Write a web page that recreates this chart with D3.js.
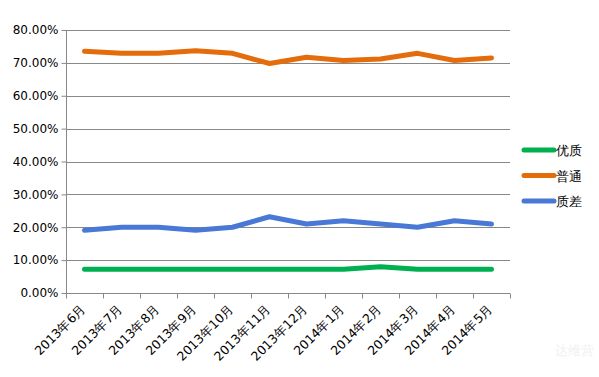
<!DOCTYPE html>
<html>
<head>
<meta charset="utf-8">
<script src="https://cdn.jsdelivr.net/npm/d3@7"></script>
<style>
  body { margin: 0; background: #fff; }
  text { font-family: "DejaVu Sans", sans-serif; }
</style>
</head>
<body>
<script>
var months = ["2013年6月", "2013年7月", "2013年8月", "2013年9月", "2013年10月", "2013年11月",
              "2013年12月", "2014年1月", "2014年2月", "2014年3月", "2014年4月", "2014年5月"];
var youzhi = [0.072, 0.072, 0.072, 0.072, 0.072, 0.072, 0.072, 0.072, 0.080, 0.072, 0.072, 0.072];
var putong = [0.735, 0.729, 0.729, 0.737, 0.729, 0.698, 0.717, 0.707, 0.712, 0.729, 0.707, 0.715];
var zhicha = [0.191, 0.200, 0.200, 0.191, 0.200, 0.232, 0.210, 0.220, 0.210, 0.200, 0.220, 0.210];
var seriesNames = ["优质", "普通", "质差"];
var seriesColors = ["#00b050", "#e46c0a", "#4a78d6"];
var yTicks = [0, 0.1, 0.2, 0.3, 0.4, 0.5, 0.6, 0.7, 0.8];

var series = [youzhi, putong, zhicha];

var width = 599, height = 377;
var margin = {left: 66, right: 89, top: 30, bottom: 84};

var svg = d3.select("body").append("svg").attr("width", width).attr("height", height);

var x = d3.scaleBand()
    .domain(months)
    .range([margin.left, width - margin.right]);

var y = d3.scaleLinear()
    .domain([0, 0.8])
    .range([height - margin.bottom, margin.top]);

// gridlines
svg.append("g")
    .selectAll("line")
    .data(yTicks.slice(1))
    .enter()
    .append("line")
        .attr("x1", margin.left)
        .attr("x2", width - margin.right)
        .attr("y1", function (d) { return Math.round(y(d)) + 0.5; })
        .attr("y2", function (d) { return Math.round(y(d)) + 0.5; })
        .style("stroke", "#888")
        .style("stroke-width", 1);

var yAxis = d3.axisLeft(y).tickValues(yTicks).tickFormat(d3.format(".2%")).tickSize(5);
var gy = svg.append("g")
    .attr("transform", "translate(" + (margin.left + 0.5) + ",0)")
    .call(yAxis);
gy.selectAll("text").style("font-size", "12px").style("fill", "#000").attr("x", -8);
gy.selectAll("line,path").style("stroke", "#888");
gy.select(".domain").attr("d", "M0," + y(0) + "V" + y(0.8));

// x axis with ticks at category boundaries
var gx = svg.append("g")
    .attr("transform", "translate(0," + (Math.round(y(0)) + 0.5) + ")");
gx.append("line")
    .attr("x1", margin.left).attr("x2", width - margin.right)
    .style("stroke", "#888");
gx.selectAll(".bt")
    .data(months.concat(["end"]))
    .enter()
    .append("line")
        .attr("x1", function (d, i) { return Math.round(margin.left + i * x.step()) + 0.5; })
        .attr("x2", function (d, i) { return Math.round(margin.left + i * x.step()) + 0.5; })
        .attr("y1", 0).attr("y2", 5)
        .style("stroke", "#888");
gx.selectAll(".lbl")
    .data(months)
    .enter()
    .append("text")
        .attr("text-anchor", "end")
        .attr("transform", function (d) {
            return "translate(" + (x(d) + x.bandwidth() / 2 + 2) + ",16) rotate(-45)";
        })
        .style("font-size", "12.5px")
        .style("fill", "#000")
        .text(function (d) { return d; });

// lines
var line = d3.line()
    .x(function (d, i) { return x(months[i]) + x.bandwidth() / 2; })
    .y(function (d) { return y(d); });

svg.append("g")
    .selectAll("path")
    .data(series)
    .enter()
    .append("path")
        .attr("d", line)
        .style("fill", "none")
        .style("stroke", function (d, i) { return seriesColors[i]; })
        .style("stroke-width", 5)
        .style("stroke-linejoin", "round")
        .style("stroke-linecap", "round");

// legend
var legend = svg.append("g").selectAll("g")
    .data(seriesNames)
    .enter()
    .append("g")
        .attr("transform", function (d, i) { return "translate(524," + (150 + i * 25.5) + ")"; });
legend.append("line")
    .attr("x1", 0).attr("x2", 30)
    .style("stroke", function (d, i) { return seriesColors[i]; })
    .style("stroke-width", 5)
    .style("stroke-linecap", "round");
legend.append("text")
    .attr("x", 32).attr("y", 5)
    .style("font-size", "13px")
    .style("fill", "#000")
    .text(function (d) { return d; });

// watermark
svg.append("text")
    .attr("x", 574).attr("y", 355)
    .attr("text-anchor", "middle")
    .style("font-size", "13px")
    .style("fill", "#f0f0f0")
    .text("达维营");
</script>
</body>
</html>
